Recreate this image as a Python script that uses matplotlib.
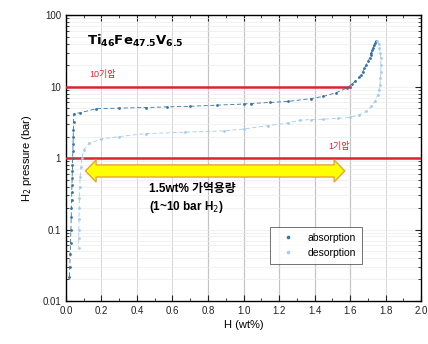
import numpy as np
import matplotlib
matplotlib.use("Agg")
import matplotlib.pyplot as plt
from matplotlib.patches import Polygon
from matplotlib.ticker import LogLocator, MultipleLocator, FixedFormatter, FixedLocator

plt.rcParams["font.family"] = ["Liberation Sans", "Noto Sans CJK KR", "DejaVu Sans"]

# absorption isotherm (H wt%, pressure bar)
abs_x = [0.020, 0.022, 0.024, 0.026, 0.028, 0.030, 0.031, 0.032, 0.033, 0.034,
         0.035, 0.036, 0.037, 0.038, 0.039, 0.040, 0.041, 0.042, 0.043, 0.045,
         0.08, 0.17, 0.30, 0.45, 0.57, 0.70, 0.85, 1.00, 1.04, 1.15, 1.25,
         1.38, 1.45, 1.52, 1.58, 1.61, 1.63, 1.65, 1.66, 1.67, 1.68, 1.69,
         1.70, 1.71, 1.715, 1.72, 1.725, 1.73, 1.735, 1.74, 1.745]
abs_p = [0.022, 0.030, 0.045, 0.065, 0.10, 0.15, 0.20, 0.26, 0.34, 0.42,
         0.52, 0.65, 0.80, 1.00, 1.25, 1.55, 1.95, 2.5, 3.2, 4.2,
         4.3, 4.9, 5.0, 5.1, 5.2, 5.3, 5.5, 5.7, 5.8, 6.0, 6.2,
         6.8, 7.3, 8.2, 9.5, 10.8, 12.0, 13.5, 14.5, 16.0, 18.0, 20.0,
         22.5, 25.0, 27.5, 30.0, 32.5, 35.0, 38.0, 41.0, 43.0]

# desorption isotherm
des_x = [1.75, 1.76, 1.765, 1.77, 1.772, 1.774, 1.773, 1.771, 1.768, 1.763,
         1.755, 1.74, 1.72, 1.69, 1.65, 1.60, 1.53, 1.45, 1.38, 1.32,
         1.25, 1.14, 1.00, 0.89, 0.67, 0.45, 0.30, 0.20, 0.13, 0.10,
         0.09, 0.085, 0.080, 0.078, 0.076, 0.075, 0.074, 0.073, 0.072, 0.071]
des_p = [43.0, 40.0, 35.0, 30.0, 25.0, 20.0, 16.0, 13.0, 10.5, 9.0,
         7.6, 6.3, 5.3, 4.5, 4.0, 3.7, 3.6, 3.5, 3.45, 3.4,
         3.1, 2.85, 2.55, 2.4, 2.3, 2.2, 2.0, 1.85, 1.6, 1.3,
         1.0, 0.75, 0.55, 0.40, 0.28, 0.20, 0.14, 0.10, 0.075, 0.056]

x_ticks = [0.0, 0.2, 0.4, 0.6, 0.8, 1.0, 1.2, 1.4, 1.6, 1.8, 2.0]
y_ticks = [0.01, 0.1, 1, 10, 100]
y_labels = ["0.01", "0.1", "1", "10", "100"]

fig = plt.figure(figsize=(4.28, 3.44), dpi=100)
ax = fig.add_axes([0.154, 0.125, 0.830, 0.831])

ax.set_yscale("log")
ax.set_xlim(0, 2.0)
ax.set_ylim(0.01, 100)

# grid
ax.grid(True, which="major", axis="x", color="#d0d0d0", lw=0.6)
ax.grid(True, which="both", axis="y", color="#ececec", lw=0.5)
for xv in [0.8, 1.0, 1.2, 1.4, 1.6]:
    ax.axvline(xv, color="#8a8a8a", lw=0.8, zorder=1)

# reference pressures
ax.axhline(10, xmin=0, xmax=1.6 / 2.0, color="#d8262c", lw=1.8, zorder=3)
ax.axhline(1, color="#d8262c", lw=1.8, zorder=3)
ax.text(0.13, 12.8, "10기압", color="#d8262c", fontsize=6.5, ha="left", va="bottom")
ax.text(1.48, 1.25, "1기압", color="#d8262c", fontsize=6.5, ha="left", va="bottom")

# isotherms
ax.plot(abs_x, abs_p, ls=(0, (5, 3)), lw=0.6, color="#3672a0", marker="o", ms=2.0,
        mew=0, label="absorption", zorder=4)
ax.plot(des_x, des_p, ls=(0, (5, 3)), lw=0.6, color="#a2cbec", marker="o", ms=2.0,
        mew=0, label="desorption", zorder=4)

# yellow double arrow for reversible capacity
ax_x0, ax_x1, ax_y = 0.11, 1.57, 0.66
body = 10 ** 0.085
head = 10 ** 0.155
hl = 0.06
verts = [(ax_x0, ax_y), (ax_x0 + hl, ax_y * head), (ax_x0 + hl, ax_y * body),
         (ax_x1 - hl, ax_y * body), (ax_x1 - hl, ax_y * head), (ax_x1, ax_y),
         (ax_x1 - hl, ax_y / head), (ax_x1 - hl, ax_y / body),
         (ax_x0 + hl, ax_y / body), (ax_x0 + hl, ax_y / head)]
ax.add_patch(Polygon(verts, closed=True, fc="#ffff00", ec="#e8a33a", lw=1.0, zorder=5))

ax.text(0.47, 0.27, "1.5wt% 가역용량\n(1~10 bar H$_2$)", fontsize=8.5, fontweight="bold",
        ha="left", va="center", linespacing=1.35, zorder=6)

ax.text(0.12, 43, r"$\mathbf{Ti_{46}Fe_{47.5}V_{6.5}}$", fontsize=9.5, ha="left", va="center")

# ticks
ax.xaxis.set_major_locator(FixedLocator(x_ticks))
ax.xaxis.set_minor_locator(MultipleLocator(0.1))
ax.yaxis.set_major_locator(FixedLocator(y_ticks))
ax.yaxis.set_major_formatter(FixedFormatter(y_labels))
ax.yaxis.set_minor_locator(LogLocator(base=10, subs=np.arange(2, 10)))
ax.tick_params(which="both", direction="in", top=True, right=True, labelsize=7,
               colors="#222222")
ax.tick_params(which="major", length=4)
ax.tick_params(which="minor", length=2)
for s in ax.spines.values():
    s.set_linewidth(1.0)

ax.set_xlabel("H (wt%)", fontsize=8, labelpad=3)
ax.set_ylabel("H$_2$ pressure (bar)", fontsize=8, labelpad=6)

leg = ax.legend(loc="lower left", bbox_to_anchor=(0.56, 0.11), fontsize=7.5,
                fancybox=False, edgecolor="#333333", markerscale=1.3,
                handlelength=2.2, borderpad=0.6)
leg.get_frame().set_linewidth(0.6)
for h in leg.get_lines():
    h.set_linestyle("none")

fig.savefig("out.png", dpi=100)
